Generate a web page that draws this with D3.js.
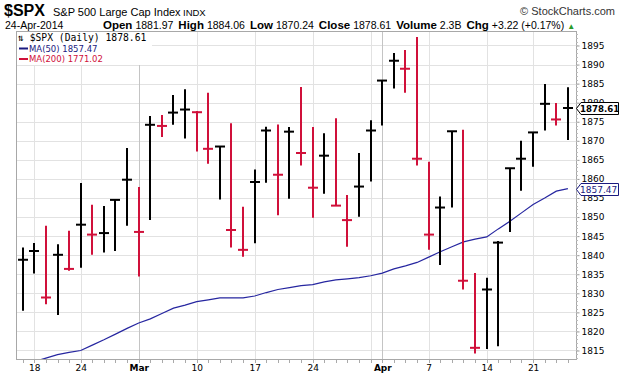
<!DOCTYPE html>
<html>
<head>
<meta charset="utf-8">
<script src="https://cdn.jsdelivr.net/npm/d3@7"></script>
<style>
  body { margin: 0; background: #fff; }
  svg { display: block; }
</style>
</head>
<body>
<div id="chart"></div>
<script>
// daily bars, $SPX, 14-Feb-2014 .. 24-Apr-2014
const dates = [
  "2014-02-14",
  "2014-02-18", "2014-02-19", "2014-02-20", "2014-02-21",
  "2014-02-24", "2014-02-25", "2014-02-26", "2014-02-27", "2014-02-28",
  "2014-03-03", "2014-03-04", "2014-03-05", "2014-03-06", "2014-03-07",
  "2014-03-10", "2014-03-11", "2014-03-12", "2014-03-13", "2014-03-14",
  "2014-03-17", "2014-03-18", "2014-03-19", "2014-03-20", "2014-03-21",
  "2014-03-24", "2014-03-25", "2014-03-26", "2014-03-27", "2014-03-28",
  "2014-03-31", "2014-04-01", "2014-04-02", "2014-04-03", "2014-04-04",
  "2014-04-07", "2014-04-08", "2014-04-09", "2014-04-10", "2014-04-11",
  "2014-04-14", "2014-04-15", "2014-04-16", "2014-04-17",
  "2014-04-21", "2014-04-22", "2014-04-23", "2014-04-24"
];
const highs = [
  1842.0,
  1843.2, 1847.7, 1842.9, 1846.4,
  1858.9, 1853.2, 1852.9, 1854.5, 1868.1,
  1857.9, 1876.5, 1876.8, 1882.0, 1883.5,
  1877.8, 1882.6, 1868.5, 1874.6, 1852.7,
  1862.5, 1873.7, 1874.3, 1873.6, 1884.1,
  1873.6, 1872.0, 1875.9, 1855.8, 1866.8,
  1875.4, 1885.8, 1893.0, 1893.8, 1897.2,
  1864.5, 1855.4, 1872.5, 1872.9, 1835.3,
  1834.1, 1843.7, 1862.8, 1870.0,
  1872.2, 1884.9, 1879.9, 1884.06
];
const lows = [
  1825.4,
  1835.2, 1827.1, 1824.3, 1835.9,
  1836.7, 1840.1, 1840.7, 1841.1, 1847.7,
  1834.4, 1849.2, 1871.0, 1874.2, 1870.6,
  1867.2, 1864.0, 1854.6, 1842.0, 1839.6,
  1843.1, 1859.0, 1850.5, 1854.8, 1863.5,
  1849.8, 1856.1, 1853.0, 1842.2, 1850.1,
  1859.3, 1874.0, 1883.7, 1882.6, 1863.5,
  1841.4, 1837.4, 1852.5, 1831.0, 1814.2,
  1815.4, 1816.1, 1846.1, 1856.9,
  1863.2, 1872.7, 1874.0, 1870.24
];
const closes = [
  1838.8,
  1841.1, 1828.9, 1840.1, 1836.4,
  1848.0, 1845.4, 1845.8, 1854.5, 1859.8,
  1846.1, 1874.2, 1873.9, 1877.4, 1878.2,
  1877.5, 1867.9, 1868.5, 1846.6, 1841.4,
  1859.2, 1872.7, 1861.1, 1872.4, 1866.8,
  1857.7, 1866.1, 1853.0, 1849.2, 1858.0,
  1872.7, 1885.8, 1891.0, 1888.9, 1865.3,
  1845.4, 1852.5, 1872.5, 1833.3, 1815.7,
  1831.0, 1843.3, 1862.8, 1865.3,
  1872.2, 1879.7, 1875.6, 1878.61
];
const ma50 = [
  1811.1,
  1812.1, 1813.0, 1813.9, 1814.5,
  1815.0, 1816.4, 1817.8, 1819.3, 1820.8,
  1822.2, 1823.3, 1824.7, 1826.1, 1826.9,
  1827.8, 1828.3, 1828.8, 1828.8, 1828.8,
  1829.3, 1830.2, 1831.0, 1831.5, 1832.0,
  1832.3, 1833.0, 1833.5, 1833.8, 1834.1,
  1834.6, 1835.3, 1836.4, 1837.2, 1838.1,
  1839.5, 1840.9, 1842.2, 1843.5, 1844.2,
  1844.8, 1846.9, 1848.9, 1851.1,
  1853.3, 1855.0, 1856.8, 1857.47
];

const weekStarts = ["2014-02-18", "2014-02-24", "2014-03-03", "2014-03-10", "2014-03-17",
  "2014-03-24", "2014-03-31", "2014-04-07", "2014-04-14", "2014-04-21"];
const monthStarts = ["2014-03-03", "2014-04-01"];
const xTickDates = ["2014-02-18", "2014-02-24", "2014-03-03", "2014-03-10", "2014-03-17",
  "2014-03-24", "2014-04-01", "2014-04-07", "2014-04-14", "2014-04-21"];
const xTickLabels = ["18", "24", "Mar", "10", "17", "24", "Apr", "7", "14", "21"];
const yTicks = [1815, 1820, 1825, 1830, 1835, 1840, 1845, 1850, 1855,
  1860, 1865, 1870, 1875, 1880, 1885, 1890, 1895];

const W = 620, H = 376;
const plot = { left: 16, right: 576, top: 31, bottom: 359 };
const RED = "#d0103a", MA_BLUE = "#2626a0";
const sans = "'Liberation Sans', Arial, sans-serif";
const verd = "'DejaVu Sans', Verdana, sans-serif";

const svg = d3.select("#chart").append("svg")
    .attr("width", W)
    .attr("height", H);

const x = d3.scalePoint().domain(dates).range([22.7, 567.9]);
const y = d3.scaleLinear().domain([1812.77, 1898.8]).range([plot.bottom, plot.top]);
const px = d => Math.round(x(d));

svg.append("clipPath").attr("id", "plot-clip")
  .append("rect")
    .attr("x", plot.left).attr("y", plot.top)
    .attr("width", plot.right - plot.left)
    .attr("height", plot.bottom - plot.top);

// grid
svg.append("g").selectAll("line")
  .data(yTicks)
  .join("line")
    .attr("x1", plot.left).attr("x2", plot.right)
    .attr("y1", d => Math.round(y(d)) + 0.5).attr("y2", d => Math.round(y(d)) + 0.5)
    .attr("stroke", "#e2e2e2");

svg.append("g").selectAll("line")
  .data(weekStarts)
  .join("line")
    .attr("x1", d => px(d) + 0.5).attr("x2", d => px(d) + 0.5)
    .attr("y1", plot.top).attr("y2", plot.bottom)
    .attr("stroke", "#e2e2e2");

svg.append("g").selectAll("line")
  .data(monthStarts)
  .join("line")
    .attr("x1", d => px(d) + 0.5).attr("x2", d => px(d) + 0.5)
    .attr("y1", plot.top).attr("y2", plot.bottom)
    .attr("stroke", "#c4c4c4");

// MA(50)
svg.append("path")
    .datum(ma50)
    .attr("clip-path", "url(#plot-clip)")
    .attr("fill", "none")
    .attr("stroke", MA_BLUE)
    .attr("stroke-width", 1.2)
    .attr("d", d3.line().x((d, i) => x(dates[i])).y(d => y(d)));

// HLC bars
const bars = svg.append("g").attr("clip-path", "url(#plot-clip)")
  .selectAll("g")
  .data(dates)
  .join("g")
    .attr("stroke", (d, i) => (i > 0 && closes[i] < closes[i - 1]) ? RED : "#000")
    .attr("stroke-width", 2);

bars.append("line")
    .attr("x1", d => px(d)).attr("x2", d => px(d))
    .attr("y1", (d, i) => y(highs[i])).attr("y2", (d, i) => y(lows[i]));

bars.append("line")
    .attr("x1", d => px(d) - 5).attr("x2", d => px(d) + 5)
    .attr("y1", (d, i) => y(closes[i])).attr("y2", (d, i) => y(closes[i]));

// frame
svg.append("rect")
    .attr("x", plot.left + 0.5).attr("y", plot.top + 0.5)
    .attr("width", plot.right - plot.left).attr("height", plot.bottom - plot.top)
    .attr("fill", "none")
    .attr("stroke", "#a8a8a8");

// y axis (right)
const yAxis = svg.append("g")
    .attr("transform", `translate(${plot.right + 0.5},0)`)
    .call(d3.axisRight(y).tickValues(yTicks).tickFormat(d3.format("d"))
      .tickSize(3).tickPadding(2));
yAxis.select(".domain").remove();
yAxis.selectAll(".tick line").attr("stroke", "#999");
yAxis.selectAll("text")
    .attr("font-family", verd).attr("font-size", 9).attr("fill", "#000");

svg.append("g").selectAll("line")
  .data(d3.range(1813, 1899))
  .join("line")
    .attr("x1", plot.right).attr("x2", plot.right + 2)
    .attr("y1", d => Math.round(y(d)) + 0.5).attr("y2", d => Math.round(y(d)) + 0.5)
    .attr("stroke", "#bbb");

// x axis
const xAxis = svg.append("g")
    .attr("transform", `translate(0,${plot.bottom})`)
    .call(d3.axisBottom(x).tickValues(xTickDates)
      .tickFormat((d, i) => xTickLabels[i]).tickSize(0).tickPadding(6));
xAxis.select(".domain").remove();
xAxis.selectAll("text")
    .attr("font-family", verd).attr("font-size", 9).attr("fill", "#000")
    .attr("font-weight", (d, i) => isNaN(+xTickLabels[i]) ? "bold" : "normal");

svg.append("g").selectAll("line")
  .data(dates)
  .join("line")
    .attr("x1", d => px(d) + 0.5).attr("x2", d => px(d) + 0.5)
    .attr("y1", plot.bottom + 1).attr("y2", plot.bottom + 4)
    .attr("stroke", "#aaa");

// price tags on the axis
function tag(value, color, bold, text) {
  const yy = Math.round(y(value)) + 0.5;
  const g = svg.append("g");
  g.append("path")
      .attr("d", `M${plot.right + 0.5},${yy} L${plot.right + 5},${yy - 6} L618.5,${yy - 6} L618.5,${yy + 6} L${plot.right + 5},${yy + 6} Z`)
      .attr("fill", "#fff")
      .attr("stroke", color);
  g.append("text")
      .attr("x", 580).attr("y", yy + 3.5)
      .attr("font-family", verd)
      .attr("font-size", bold ? 8.6 : 9)
      .attr("font-weight", bold ? "bold" : "normal")
      .attr("fill", color)
      .text(text);
}
tag(closes[closes.length - 1], "#000", true, "1878.61");
tag(ma50[ma50.length - 1], "#1a1a80", false, "1857.47");

// legend
const legend = svg.append("g");
legend.append("rect")
    .attr("x", plot.left + 1).attr("y", plot.top + 1)
    .attr("width", 135).attr("height", 33)
    .attr("fill", "#fff");
legend.append("text")
    .attr("x", 18).attr("y", 41)
    .attr("font-family", "'DejaVu Sans Mono', monospace")
    .attr("font-size", 9.7)
    .attr("fill", "#000")
    .text("⇅ $SPX (Daily) 1878.61");
const maItems = [
  { label: "MA(50) 1857.47", color: "#1a1a80", y: 51.5 },
  { label: "MA(200) 1771.02", color: "#d0103a", y: 62 }
];
maItems.forEach(m => {
  legend.append("line")
      .attr("x1", 19).attr("x2", 28)
      .attr("y1", m.y - 3).attr("y2", m.y - 3)
      .attr("stroke", m.color).attr("stroke-width", 2);
  legend.append("text")
      .attr("x", 29).attr("y", m.y)
      .attr("font-family", verd).attr("font-size", 8.5)
      .attr("fill", m.color)
      .text(m.label);
});

// header
const head = svg.append("g").attr("font-family", sans).attr("fill", "#000");
head.append("text")
    .attr("x", 4).attr("y", 16)
    .attr("font-size", 16).attr("font-weight", "bold")
    .text("$SPX");
head.append("text")
    .attr("x", 53).attr("y", 16)
    .attr("font-size", 11)
    .text("S&P 500 Large Cap Index");
head.append("text")
    .attr("x", 183).attr("y", 16)
    .attr("font-size", 9.5)
    .text("INDX");
head.append("text")
    .attr("x", 615).attr("y", 15)
    .attr("text-anchor", "end")
    .attr("font-size", 11)
    .attr("fill", "#333")
    .text("© StockCharts.com");

head.append("text")
    .attr("x", 5).attr("y", 29)
    .attr("font-size", 10.5)
    .text("24-Apr-2014");

const stats = [
  ["Open", "1881.97"], ["High", "1884.06"], ["Low", "1870.24"],
  ["Close", "1878.61"], ["Volume", "2.3B"], ["Chg", "+3.22 (+0.17%)"]
];
const statLine = head.append("text")
    .attr("x", 103).attr("y", 29)
    .attr("font-size", 10.5);
stats.forEach((s, i) => {
  statLine.append("tspan").attr("font-weight", "bold").attr("font-size", 11.5)
      .attr("dx", i === 0 ? 0 : 5).text(s[0]);
  statLine.append("tspan").attr("dx", 3).text(s[1]);
});
statLine.append("tspan").attr("dx", 3).attr("font-size", 8).attr("fill", "#2a9a2a").text("▲");
</script>
</body>
</html>
